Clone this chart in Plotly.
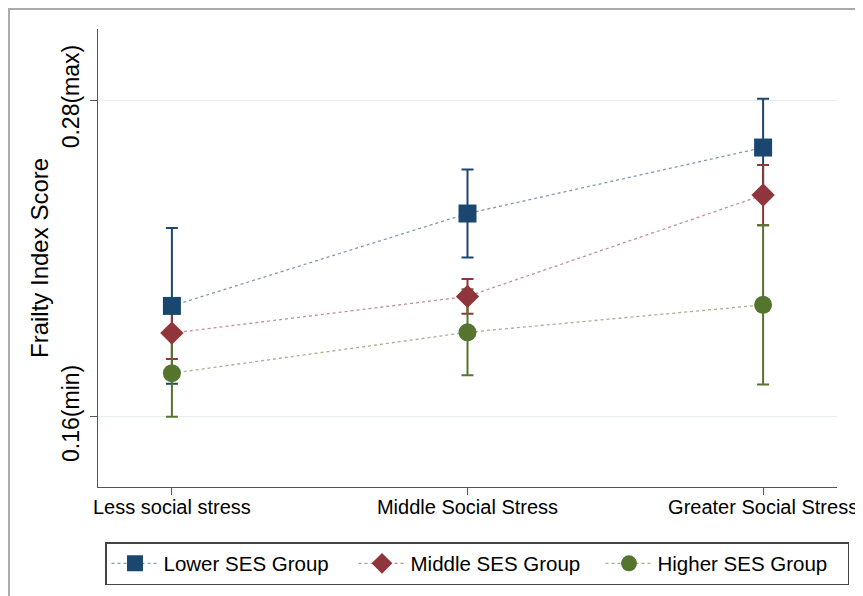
import plotly.graph_objects as go

categories = ["Less social stress", "Middle Social Stress", "Greater Social Stress"]
series_names = ["Lower SES Group", "Middle SES Group", "Higher SES Group"]
lower_vals = [0.202, 0.237, 0.262]
lower_err = [0.0295, 0.0167, 0.0185]
middle_vals = [0.1917, 0.2056, 0.244]
middle_err = [0.0098, 0.0066, 0.0114]
higher_vals = [0.1765, 0.192, 0.2024]
higher_err = [0.0165, 0.0163, 0.0302]
ytick_vals = [0.16, 0.28]
ytick_text = ["0.16(min)", "0.28(max)"]

colors = ["#1a476f", "#90353b", "#55752f"]
line_colors = ["rgba(26,71,111,0.55)", "rgba(144,53,59,0.55)", "rgba(85,117,47,0.55)"]
symbols = ["square", "diamond", "circle"]
sizes = [18, 18, 18]
vals = [lower_vals, middle_vals, higher_vals]
errs = [lower_err, middle_err, higher_err]

FONT = "Liberation Sans, Arial, Helvetica, sans-serif"

fig = go.Figure()

# error bars first (drawn beneath markers)
for v, e, c in zip(vals, errs, colors):
    fig.add_trace(go.Scatter(
        x=categories, y=v, mode="markers",
        marker=dict(size=1, opacity=0),
        error_y=dict(type="data", array=e, visible=True, color=c, thickness=2, width=6),
        showlegend=False, hoverinfo="skip",
    ))

for name, v, c, lc, s, sz in zip(series_names, vals, colors, line_colors, symbols, sizes):
    fig.add_trace(go.Scatter(
        x=categories, y=v, mode="lines+markers", name=name,
        line=dict(color=lc, width=1.3, dash="dot"),
        marker=dict(symbol=s, size=sz, color=c, line=dict(width=0)),
    ))

OFF = 8  # page body margin
W, H = 863 - OFF, 596 - OFF
L, R, T = 98 - OFF, 26, 29 - OFF
B = H - (487 - OFF)
pw, ph = W - L - R, H - T - B

fig.update_layout(
    width=W, height=H,
    margin=dict(l=L, r=R, t=T, b=B, autoexpand=False),
    paper_bgcolor="white", plot_bgcolor="white",
    font=dict(family=FONT, size=20, color="black"),
    legend=dict(
        orientation="h", xanchor="left", x=(105 - 98) / pw,
        yanchor="top", y=(487 - 542) / ph,
        bordercolor="#444444", borderwidth=1.5, font=dict(size=20.5),
        itemwidth=47, entrywidth=185, tracegroupgap=0,
    ),
    xaxis=dict(
        type="category", range=[-0.25, 2.25], showgrid=False, automargin=False,
        showline=True, linecolor="#555555", linewidth=1.2,
        ticks="outside", ticklen=7, tickcolor="#555555", tickwidth=1.2,
        tickfont=dict(size=20), zeroline=False, ticklabelstandoff=-5,
    ),
    yaxis=dict(
        range=[0.1334, 0.3069], tickvals=ytick_vals, ticktext=ytick_text, automargin=False,
        tickangle=-90, showgrid=True, gridcolor="#e6eef0", gridwidth=1.2,
        showline=True, linecolor="#555555", linewidth=1.2,
        ticks="outside", ticklen=7, tickcolor="#555555", tickwidth=1.2,
        tickfont=dict(size=23), zeroline=False, ticklabelstandoff=2,
    ),
    shapes=[dict(
        type="rect", xref="paper", yref="paper",
        x0=(9 - 98) / pw, x1=(860 - 98) / pw,
        y0=(487 - 620) / ph, y1=(487 - OFF - 1) / ph,
        line=dict(color="#aaaaaa", width=2), fillcolor="rgba(0,0,0,0)", layer="below",
    )],
    annotations=[dict(
        text="Frailty Index Score", xref="paper", yref="paper",
        x=(39 - 98) / pw, y=0.5, xanchor="center", yanchor="middle",
        textangle=-90, showarrow=False, font=dict(size=24),
    )],
)

fig.write_html("out.html")
